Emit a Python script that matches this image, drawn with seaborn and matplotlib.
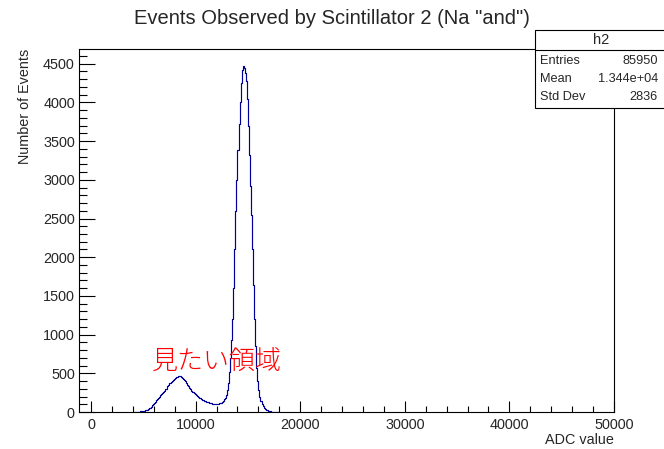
import numpy as np
import pandas as pd
import matplotlib
matplotlib.use("Agg")
import matplotlib.pyplot as plt
from matplotlib.patches import Rectangle
from matplotlib.lines import Line2D
from matplotlib.ticker import MultipleLocator
import seaborn as sns

# ADC histogram of scintillator 2, 100-count-wide bins from 4000 to 18000
bin_low = 4000
bin_width = 100
counts = [
    0, 0, 1, 1, 2, 4, 6, 8, 10, 12,                                  # 4000
    15, 19, 24, 30, 38, 47, 58, 70, 85, 100,                         # 5000
    118, 135, 150, 168, 185, 200, 218, 235, 250, 262,                # 6000
    275, 292, 301, 333, 348, 375, 382, 403, 415, 431,                # 7000
    440, 447, 452, 466, 470, 461, 457, 443, 431, 410,                # 8000
    395, 376, 353, 336, 314, 296, 277, 261, 244, 233,                # 9000
    220, 208, 196, 185, 176, 168, 160, 152, 145, 140,                # 10000
    134, 128, 123, 118, 114, 110, 107, 105, 104, 103,                # 11000
    104, 106, 110, 115, 122, 132, 145, 162, 185, 215,                # 12000
    280, 380, 520, 700, 930, 1200, 1600, 2100, 2600, 3000,           # 13000
    3380, 3720, 4000, 4250, 4420, 4470, 4440, 4380, 4280, 4050,      # 14000
    3700, 3320, 2920, 2540, 2100, 1640, 1200, 850, 570, 400,         # 15000
    280, 200, 140, 100, 75, 55, 40, 30, 22, 16,                      # 16000
    12, 8, 6, 4, 3, 2, 1, 1, 0, 0,                                   # 17000
]

stat_labels = ["Entries", "Mean", "Std Dev"]
stat_values = ["85950", "1.344e+04", "2836"]
hist_name = "h2"
title = 'Events Observed by Scintillator 2 (Na "and")'
region_note = "見たい領域"

edges = [bin_low + bin_width * i for i in range(len(counts) + 1)]
df = pd.DataFrame({
    "adc": [(edges[i] + edges[i + 1]) / 2 for i in range(len(counts))],
    "n": counts,
})

sns.set_style("white")
plt.rcParams["font.family"] = ["Liberation Sans", "Noto Sans CJK JP"]

W, H = 664, 449
fig = plt.figure(figsize=(W / 100, H / 100), dpi=100)


def fx(px):
    return px / W


def fy(py):
    return 1 - py / H


ax = fig.add_axes([fx(79), fy(412), fx(614) - fx(79), fy(49) - fy(412)])

sns.histplot(data=df, x="adc", weights="n", bins=edges, element="step",
             fill=False, color="#000099", linewidth=0.85, ax=ax)

ax.set_xlim(-1150, 50000)
ax.set_ylim(0, 4690)
ax.set_xlabel("")
ax.set_ylabel("")

ax.xaxis.set_major_locator(MultipleLocator(10000))
ax.xaxis.set_minor_locator(MultipleLocator(2000))
ax.yaxis.set_major_locator(MultipleLocator(500))
ax.yaxis.set_minor_locator(MultipleLocator(100))

ax.tick_params(axis="x", which="major", direction="in", length=8, width=0.8,
               labelsize=10.4, pad=4, color="black")
ax.tick_params(axis="x", which="minor", direction="in", length=4, width=0.8,
               color="black")
ax.tick_params(axis="y", which="major", direction="in", length=11.5, width=0.8,
               labelsize=10.4, pad=3, color="black")
ax.tick_params(axis="y", which="minor", direction="in", length=5.8, width=0.8,
               color="black")
ax.tick_params(bottom=True, left=True, which="both")

for s in ax.spines.values():
    s.set_color("black")
    s.set_linewidth(0.8)

# titles
fig.text(0.5, fy(18), title, ha="center", va="center", fontsize=14.5)
fig.text(fx(25), fy(49), "Number of Events", rotation=90, ha="center",
         va="top", fontsize=10.4)
fig.text(fx(614), fy(440), "ADC value", ha="right", va="center",
         fontsize=10.4)

# annotation of the region of interest
ax.text(12050, 650, region_note, color="#ff0000", fontsize=18.7,
        family=["Noto Sans CJK JP"], fontweight="light",
        ha="center", va="center", zorder=5)

# statistics box
box_l, box_t, box_r, box_b = 535, 30, 672, 108
fig.add_artist(Rectangle((fx(box_l), fy(box_b)), fx(box_r) - fx(box_l),
                         fy(box_t) - fy(box_b), transform=fig.transFigure,
                         facecolor="white", edgecolor="black", linewidth=0.8,
                         zorder=3))
fig.add_artist(Line2D([fx(box_l), fx(box_r)], [fy(50), fy(50)],
                      transform=fig.transFigure, color="black",
                      linewidth=0.8, zorder=4))
fig.text(fx(601), fy(40), hist_name, ha="center", va="center", fontsize=10.5,
         zorder=5)
for i, (lab, val) in enumerate(zip(stat_labels, stat_values)):
    yy = fy(61 + 18 * i)
    fig.text(fx(540), yy, lab, ha="left", va="center", fontsize=9.2, zorder=5)
    fig.text(fx(658), yy, val, ha="right", va="center", fontsize=9.2, zorder=5)

fig.savefig("out.png", dpi=100)
